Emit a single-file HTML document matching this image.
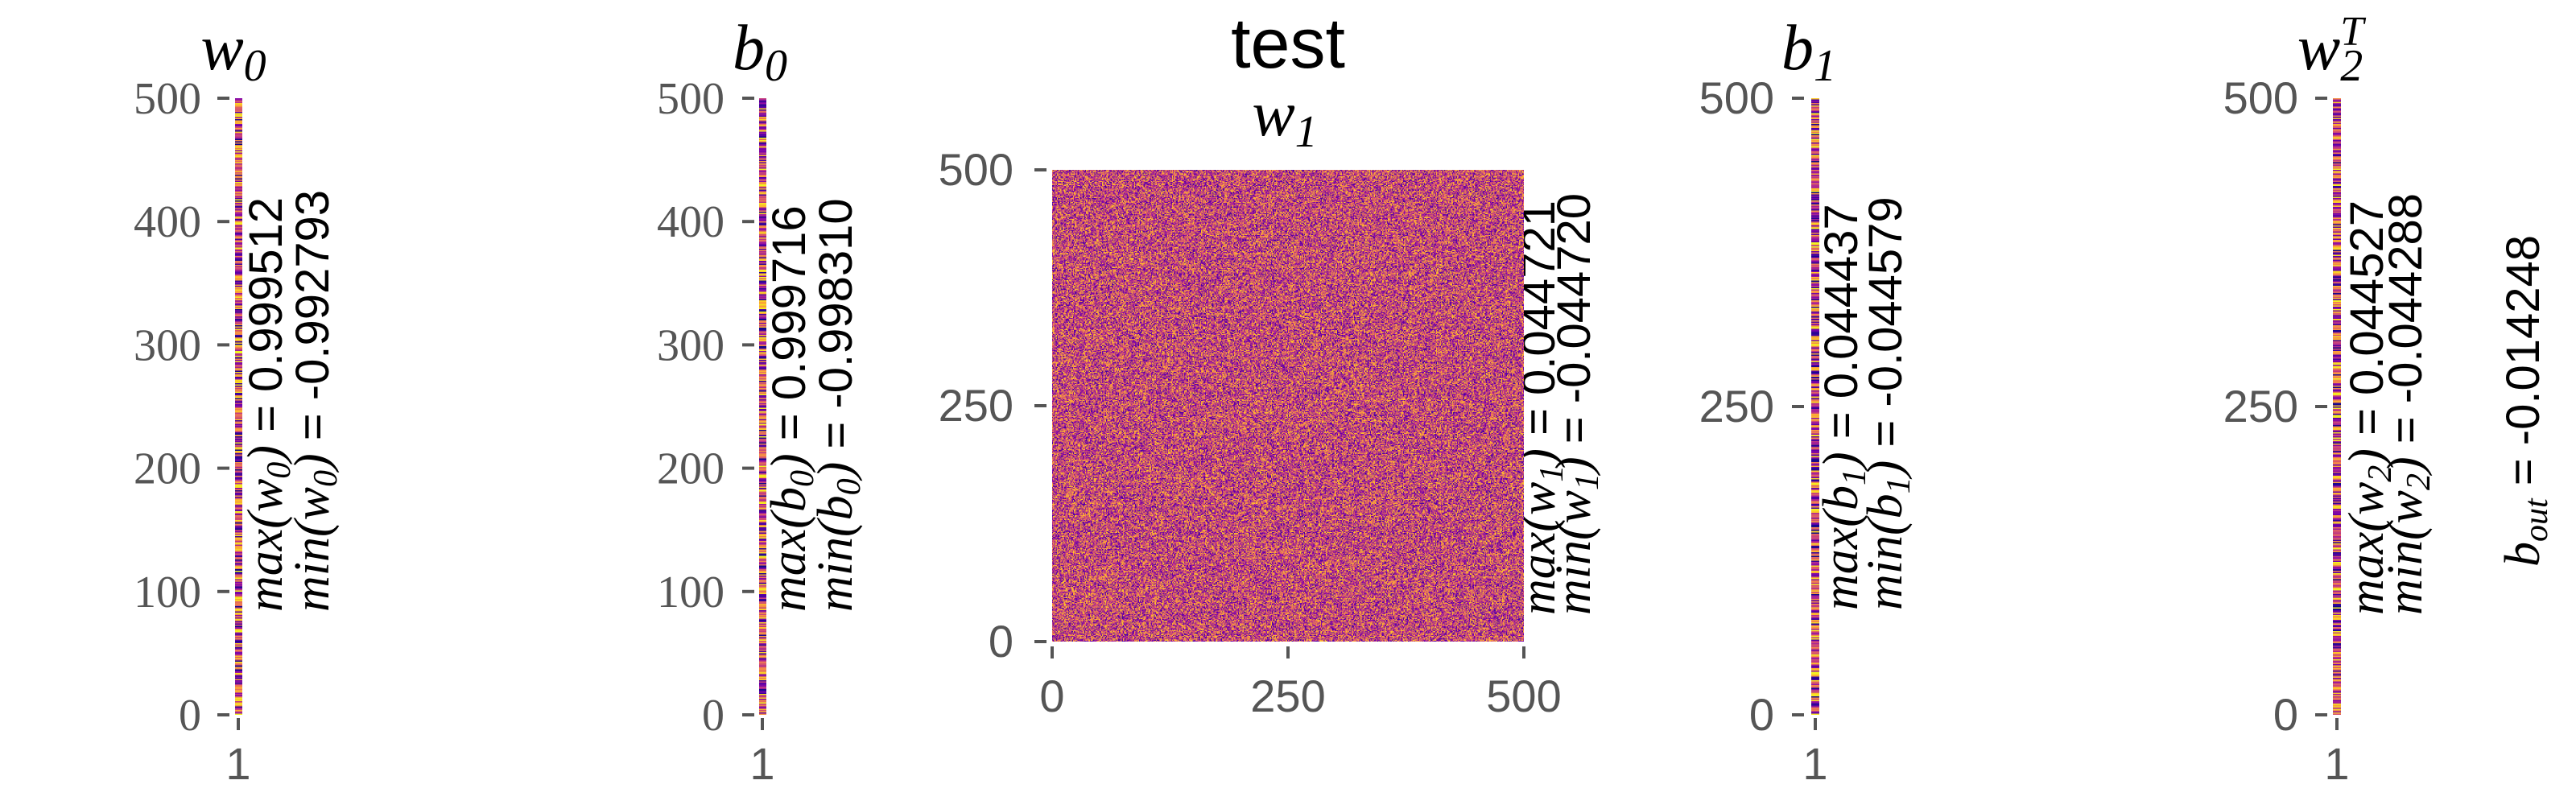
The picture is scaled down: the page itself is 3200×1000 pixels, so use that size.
<!DOCTYPE html>
<html><head><meta charset="utf-8">
<style>
html,body{margin:0;padding:0;background:#fff;}
#wrap{position:relative;width:3200px;height:1000px;overflow:hidden;background:#fff;}
svg{position:absolute;left:0;top:0;}
canvas{position:absolute;image-rendering:pixelated;}
.tk{fill:#555;font-family:"Liberation Sans",sans-serif;font-size:56px;}
.tks{fill:#555;font-family:"Liberation Serif",serif;font-size:56px;}
.ttl{font-family:"Liberation Serif",serif;font-style:italic;font-size:80px;fill:#000;}
.ann{font-family:"Liberation Sans",sans-serif;font-size:58px;fill:#000;}
.m{font-family:"Liberation Serif",serif;font-style:italic;}
</style></head>
<body>
<div id="wrap">
<svg id="svg" width="3200" height="1000" viewBox="0 0 3200 1000"></svg>
</div>
<script>
// --- data (printed summary values) ---
const panelNames = ["w0","b0","w1","b1","w2"];
const maxVals = ["0.999512","0.999716","0.044721","0.044437","0.044527"];
const minVals = ["-0.992793","-0.998310","-0.044720","-0.044579","-0.044288"];
const boutVal = "-0.014248";
const ticksA = [0,100,200,300,400,500];
const ticksB = [0,250,500];
const nRows = 500;
// seeded weights (noise texture; individual values unreadable)
function rng(seed){return function(){seed|=0;seed=seed+0x6D2B79F5|0;let t=Math.imul(seed^seed>>>15,1|seed);t=t+Math.imul(t^t>>>7,61|t)^t;return((t^t>>>14)>>>0)/4294967296;};}
const r = rng(12345);
const stripW0 = []; for(let i=0;i<nRows;i++) stripW0.push(r());
const stripB0 = []; for(let i=0;i<nRows;i++) stripB0.push(r());
const stripB1 = []; for(let i=0;i<nRows;i++) stripB1.push(r());
const stripW2 = []; for(let i=0;i<nRows;i++) stripW2.push(r());
const heat = new Float32Array(nRows*nRows); for(let i=0;i<heat.length;i++) heat[i]=r();

const stops=[[13,8,135],[65,4,157],[106,0,168],[143,13,164],[177,42,144],[204,71,120],[225,100,98],[242,132,75],[252,166,54],[252,206,37],[240,249,33]];
function plasma(v){v=Math.max(0,Math.min(1,v))*10;const i=Math.min(9,Math.floor(v)),f=v-i;const a=stops[i],b=stops[i+1];return [a[0]+(b[0]-a[0])*f,a[1]+(b[1]-a[1])*f,a[2]+(b[2]-a[2])*f];}

const NS="http://www.w3.org/2000/svg";
const svg=document.getElementById('svg');
const wrap=document.getElementById('wrap');
function el(tag,attrs,parent){const e=document.createElementNS(NS,tag);for(const k in attrs)e.setAttribute(k,attrs[k]);(parent||svg).appendChild(e);return e;}

function stripCanvas(vals,x,w,y0,y1,name){
  const c=document.createElement('canvas');c.width=1;c.height=vals.length;
  c.style.left=x+'px';c.style.top=y0+'px';c.style.width=w+'px';c.style.height=(y1-y0)+'px';
  
  
  const ctx=c.getContext('2d');const im=ctx.createImageData(1,vals.length);
  for(let i=0;i<vals.length;i++){const col=plasma(vals[vals.length-1-i]);im.data[i*4]=col[0];im.data[i*4+1]=col[1];im.data[i*4+2]=col[2];im.data[i*4+3]=255;}
  ctx.putImageData(im,0,0);wrap.appendChild(c);
}

const Y0=888,Y1=122;
function ys(v){return Y0+(Y1-Y0)*v/500;}

function yTicks(ticks,tx,labelRight,cls,yfn,name){
  const g=el('g',{});
  
  
  ticks.forEach(t=>{
    const y=yfn(t);
    el('line',{x1:tx,x2:tx+15,y1:y,y2:y,stroke:'#555','stroke-width':4},g);
    const tt=el('text',{x:labelRight,y:y+19,'text-anchor':'end','class':cls},g);tt.textContent=t;
  });
}
function annot(x1,x2,y,sym,mx,mn,name){
  const g=el('g',{});
  
  
  [[x1,'max',mx],[x2,'min',mn]].forEach(([x,f,v])=>{
    const t=el('text',{x:0,y:0,'class':'ann',transform:`translate(${x},${y}) rotate(-90)`},g);
    t.innerHTML=`<tspan class="m" font-size="62">${f}(${sym[0]}</tspan><tspan class="m" font-size="42" dy="10">${sym[1]}</tspan><tspan class="m" font-size="62" dy="-10">)</tspan><tspan> = ${v}</tspan>`;
  });
}
function title(x,y,sym,sub,sup,name){
  const t=el('text',{x:x,y:y,'text-anchor':'middle','class':'ttl'});
  
  
  t.innerHTML=`${sym}<tspan font-size="56" dy="14">${sub}</tspan>`+(sup?`<tspan font-size="52" dx="-28" dy="-44">${sup}</tspan>`:'');
}
function xOne(cx,name){
  el('line',{x1:cx,x2:cx,y1:892,y2:907,stroke:'#555','stroke-width':4});
  const t=el('text',{x:cx,y:968,'text-anchor':'middle','class':'tk'});t.textContent='1';
  
  
}

const mt=el('text',{x:1600,y:84,'text-anchor':'middle','font-family':'Liberation Sans, sans-serif','font-size':88});
mt.textContent='test';



// w0
stripCanvas(stripW0,292,9,ys(500),ys(0),'w0-strip');
yTicks(ticksA,270,250,'tks',ys,'w0-y-axis');
xOne(296,'w0-x-tick');
title(290,86,'w','0','','w0-title');
annot(350,408,760,['w','0'],maxVals[0],minVals[0],'w0-annotation');

// b0
stripCanvas(stripB0,943,9,ys(500),ys(0),'b0-strip');
yTicks(ticksA,922,900,'tks',ys,'b0-y-axis');
xOne(947,'b0-x-tick');
title(944,86,'b','0','','b0-title');
annot(1000,1058,760,['b','0'],maxVals[1],minVals[1],'b0-annotation');

// w1 heatmap
const HX0=1307,HX1=1893,HY0=211,HY1=797;
function hx(v){return HX0+(HX1-HX0)*v/500;}
function hy(v){return HY1-(HY1-HY0)*v/500;}
(function(){
  const c=document.createElement('canvas');c.width=nRows;c.height=nRows;
  c.style.left=HX0+'px';c.style.top=HY0+'px';c.style.width=(HX1-HX0)+'px';c.style.height=(HY1-HY0)+'px';
  
  
  const ctx=c.getContext('2d');const im=ctx.createImageData(nRows,nRows);
  for(let i=0;i<heat.length;i++){const col=plasma(0.1+0.8*heat[i]);im.data[i*4]=col[0];im.data[i*4+1]=col[1];im.data[i*4+2]=col[2];im.data[i*4+3]=255;}
  ctx.putImageData(im,0,0);wrap.appendChild(c);
})();
yTicks(ticksB,1285,1259,'tk',hy,'w1-y-axis');
(function(){
  const g=el('g',{});
  
  
  ticksB.forEach(t=>{const x=hx(t);el('line',{x1:x,x2:x,y1:803,y2:818,stroke:'#555','stroke-width':4},g);
    const tt=el('text',{x:x,y:884,'text-anchor':'middle','class':'tk'},g);tt.textContent=t;});
})();
title(1596,168,'w','1','','w1-title');
annot(1931,1975,764,['w','1'],maxVals[2],minVals[2],'w1-annotation');

// b1
stripCanvas(stripB1,2250,10,ys(500),ys(0),'b1-strip');
yTicks(ticksB,2226,2204,'tk',ys,'b1-y-axis');
xOne(2255,'b1-x-tick');
title(2247,86,'b','1','','b1-title');
annot(2307,2362,758,['b','1'],maxVals[3],minVals[3],'b1-annotation');

// w2
stripCanvas(stripW2,2898,10,ys(500),ys(0),'w2-strip');
yTicks(ticksB,2876,2855,'tk',ys,'w2-y-axis');
xOne(2903,'w2-x-tick');
title(2895,86,'w','2','T','w2T-title');
annot(2960,3008,764,['w','2'],maxVals[4],minVals[4],'w2-annotation');

// b_out
const bo=el('text',{x:0,y:0,'class':'ann',transform:'translate(3154,704) rotate(-90)'});
bo.innerHTML=`<tspan class="m" font-size="62">b</tspan><tspan class="m" font-size="42" dy="10">out</tspan><tspan dy="-10"> = ${boutVal}</tspan>`;


</script>
</body></html>
